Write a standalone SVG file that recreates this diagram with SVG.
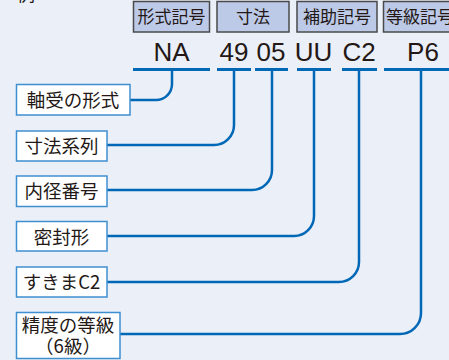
<svg xmlns="http://www.w3.org/2000/svg" width="449" height="360" viewBox="0 0 449 360">
<style>
.hdr rect{fill:#BDCAE7;stroke:#4a4a4a;stroke-width:1.5}
.hdr text{font-family:"Noto Sans CJK JP",sans-serif;font-size:17px;fill:#231815}
.code{font-family:"Liberation Sans",Arial,sans-serif;font-size:26px;fill:#231815;text-anchor:middle}
.node rect{fill:#ffffff;stroke:#3F8ED0;stroke-width:1.5}
.node text{font-family:"Noto Sans CJK JP",sans-serif;font-size:18.5px;fill:#231815;text-anchor:middle}
.ul{stroke:#0068B7;stroke-width:3;fill:none}
.conn path{stroke:#0068B7;stroke-width:2.5;fill:none}
</style>
<rect x="0" y="0" width="449" height="360" fill="#EBEFF8"/>
<text x="17" y="1" style="font-family:'Noto Sans CJK JP',sans-serif;font-size:18px;fill:#231815">例</text>

<g id="header-keishiki" class="hdr"><rect x="133.5" y="1.5" width="76" height="30.5"/><text x="171.5" y="22.5" text-anchor="middle">形式記号</text></g>
<g id="header-sunpo" class="hdr"><rect x="217" y="1.5" width="72" height="30.5"/><text x="253" y="22.5" text-anchor="middle">寸法</text></g>
<g id="header-hojo" class="hdr"><rect x="297" y="1.5" width="80" height="30.5"/><text x="337" y="22.5" text-anchor="middle">補助記号</text></g>
<g id="header-tokyu" class="hdr"><rect x="383.5" y="1.5" width="80" height="30.5"/><text x="386" y="22.5">等級記号</text></g>

<g id="code">
<text class="code" x="171.5" y="61">NA</text>
<text class="code" x="234" y="61">49</text>
<text class="code" x="271" y="61">05</text>
<text class="code" x="313.5" y="61">UU</text>
<text class="code" x="359" y="61">C2</text>
<text class="code" x="423" y="61">P6</text>
</g>

<g id="connectors" class="conn">
<g id="underlines">
<line class="ul" x1="133" y1="69.5" x2="210" y2="69.5"/>
<line class="ul" x1="217" y1="69.5" x2="251" y2="69.5"/>
<line class="ul" x1="255" y1="69.5" x2="288" y2="69.5"/>
<line class="ul" x1="297" y1="69.5" x2="331" y2="69.5"/>
<line class="ul" x1="342" y1="69.5" x2="377" y2="69.5"/>
<line class="ul" x1="384" y1="69.5" x2="449" y2="69.5"/>
</g>
<path d="M172,70 V84 A16,16 0 0 1 156,100 H130"/>
<path d="M234,70 V125 A20,20 0 0 1 214,145 H107"/>
<path d="M272,70 V170 A20,20 0 0 1 252,190 H107"/>
<path d="M314,70 V216 A20,20 0 0 1 294,236 H107"/>
<path d="M359,70 V262 A20,20 0 0 1 339,282 H107"/>
<path d="M421,70 V313 A21,21 0 0 1 400,334 H120"/>
</g>

<g id="node-jikuuke" class="node"><rect x="16.5" y="84.5" width="113.5" height="30.5"/><text x="73" y="107">軸受の形式</text></g>
<g id="node-sunpokeiretsu" class="node"><rect x="16.5" y="131" width="90.5" height="30"/><text x="61.5" y="153">寸法系列</text></g>
<g id="node-naikei" class="node"><rect x="16.5" y="176" width="90.5" height="30.5"/><text x="61.5" y="198">内径番号</text></g>
<g id="node-mippu" class="node"><rect x="16.5" y="221.5" width="90.5" height="29.5"/><text x="61.5" y="243.5">密封形</text></g>
<g id="node-sukima" class="node"><rect x="16.5" y="267" width="90.5" height="30"/><text x="61.5" y="289">すきまC2</text></g>
<g id="node-seido" class="node"><rect x="16.5" y="312.5" width="103.5" height="46"/><text x="68" y="332">精度の等級</text><text x="68" y="353">（6級）</text></g>
</svg>
